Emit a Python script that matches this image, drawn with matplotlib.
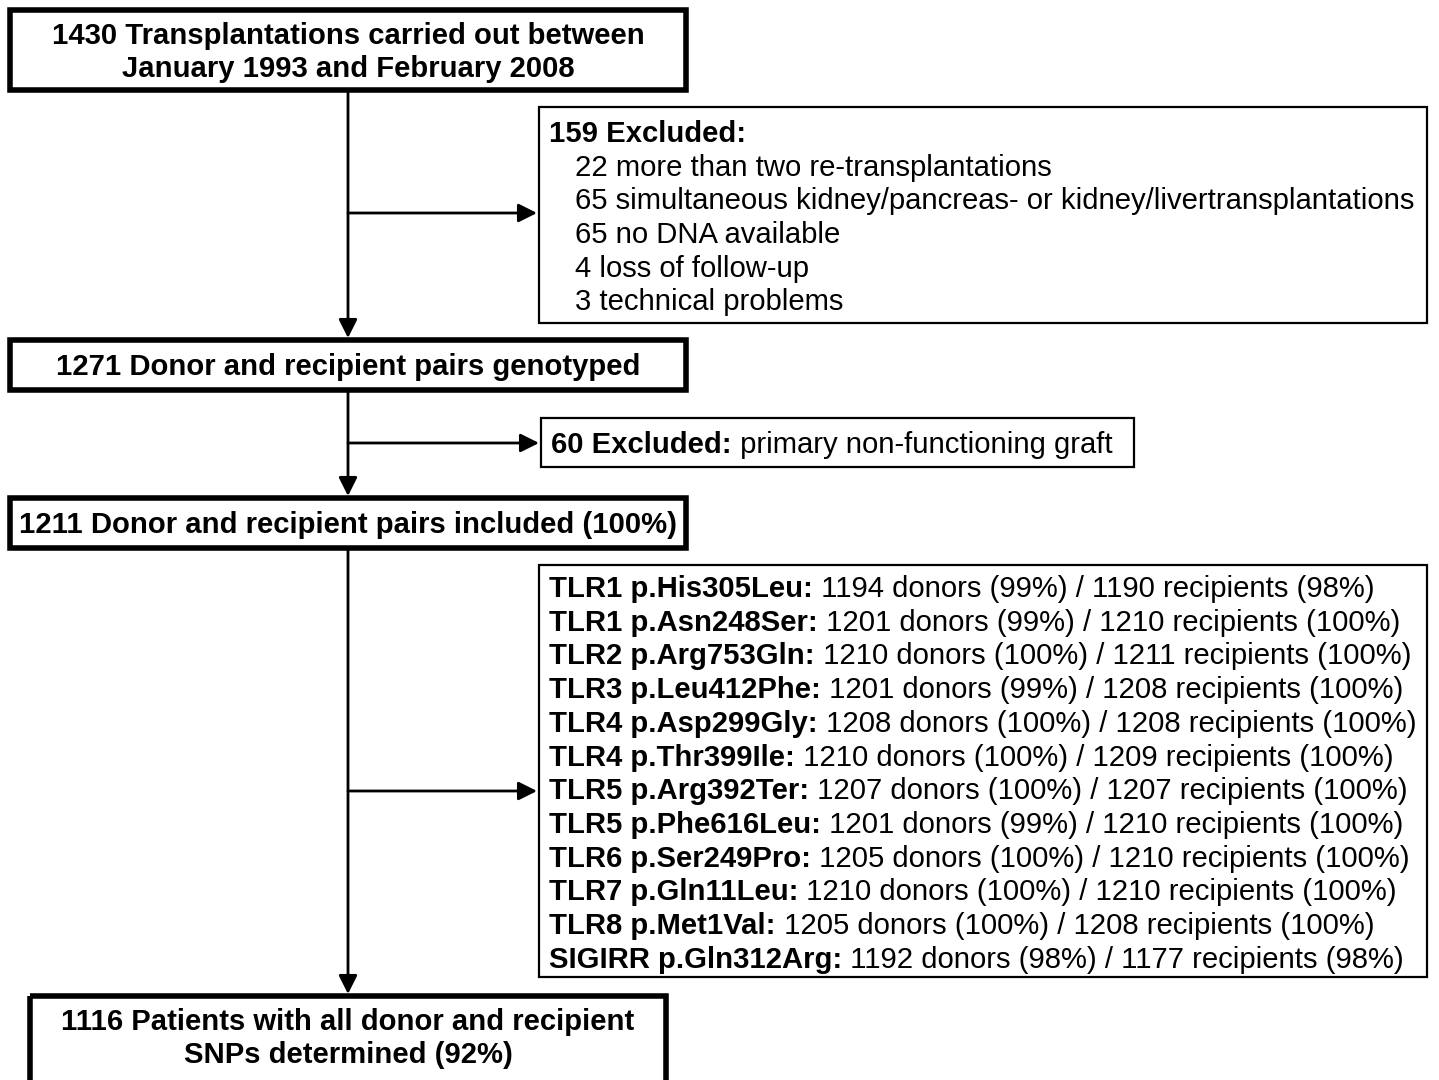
import matplotlib.pyplot as plt
from matplotlib.patches import Rectangle

plt.rcParams['font.family'] = ['Liberation Sans', 'DejaVu Sans']

# flow counts
n_total = 1430
n_excluded1 = 159
n_genotyped = 1271
n_excluded2 = 60
n_included = 1211
n_complete = 1116
pct_complete = 92

excl_counts = [22, 65, 65, 4, 3]
excl_reasons = ["more than two re-transplantations",
                "simultaneous kidney/pancreas- or kidney/livertransplantations",
                "no DNA available",
                "loss of follow-up",
                "technical problems"]

snps = ["TLR1 p.His305Leu", "TLR1 p.Asn248Ser", "TLR2 p.Arg753Gln", "TLR3 p.Leu412Phe",
        "TLR4 p.Asp299Gly", "TLR4 p.Thr399Ile", "TLR5 p.Arg392Ter", "TLR5 p.Phe616Leu",
        "TLR6 p.Ser249Pro", "TLR7 p.Gln11Leu", "TLR8 p.Met1Val", "SIGIRR p.Gln312Arg"]
donors = [1194, 1201, 1210, 1201, 1208, 1210, 1207, 1201, 1205, 1210, 1205, 1192]
donor_pct = [99, 99, 100, 99, 100, 100, 100, 99, 100, 100, 100, 98]
recips = [1190, 1210, 1211, 1208, 1208, 1209, 1207, 1210, 1210, 1210, 1208, 1177]
recip_pct = [98, 100, 100, 100, 100, 100, 100, 100, 100, 100, 100, 98]

FS = 21.1

fig = plt.figure(figsize=(14.39, 10.80), dpi=100)
ax = fig.add_axes([0, 0, 1, 1])
ax.set_xlim(0, 1439)
ax.set_ylim(1080, 0)
ax.axis('off')


def box(x0, y0, x1, y1, lw):
    ax.add_patch(Rectangle((x0, y0), x1 - x0, y1 - y0, fill=False, lw=lw, ec='black'))


def mixed(x, y, bold, rest):
    t = ax.text(x, y, bold, fontsize=FS, fontweight='bold', va='center', ha='left')
    ax.annotate(rest, xy=(1, 0), xycoords=t, va='bottom', ha='left', fontsize=FS)


def arrow(x0, y0, x1, y1):
    ax.annotate('', xy=(x1, y1), xytext=(x0, y0),
                arrowprops=dict(arrowstyle='-|>', color='black', lw=2,
                                mutation_scale=28, shrinkA=0, shrinkB=0))


cx = 348
dy = 2  # visual centring offset for text
# main boxes
box(10, 10, 686, 90, 4)
ax.text(cx, 50.5 + dy, f"{n_total} Transplantations carried out between\nJanuary 1993 and February 2008",
        fontsize=FS, fontweight='bold', ha='center', va='center', linespacing=1.21)

box(10, 340, 686, 390, 4)
ax.text(cx, 365 + dy, f"{n_genotyped} Donor and recipient pairs genotyped",
        fontsize=FS, fontweight='bold', ha='center', va='center')

box(10, 498, 686, 548, 4)
ax.text(cx, 523 + dy, f"{n_included} Donor and recipient pairs included (100%)",
        fontsize=FS, fontweight='bold', ha='center', va='center')

box(30, 996, 666, 1095, 4)
ax.text(cx, 1036.5 + dy, f"{n_complete} Patients with all donor and recipient\nSNPs determined ({pct_complete}%)",
        fontsize=FS, fontweight='bold', ha='center', va='center', linespacing=1.21)

# exclusion box 1
box(539, 107, 1427, 323, 1.6)
ax.text(549, 132 + dy, f"{n_excluded1} Excluded:", fontsize=FS, fontweight='bold', va='center')
for i, (c, r) in enumerate(zip(excl_counts, excl_reasons)):
    ax.text(575, 165.5 + dy + i * 33.7, f"{c} {r}", fontsize=FS, va='center')

# exclusion box 2
box(541, 418, 1134, 467, 1.6)
mixed(551, 443 + dy, f"{n_excluded2} Excluded:", " primary non-functioning graft")

# SNP box
box(539, 565, 1427, 977, 1.6)
for i in range(len(snps)):
    mixed(549, 587 + dy + i * 33.7, f"{snps[i]}:",
          f" {donors[i]} donors ({donor_pct[i]}%) / {recips[i]} recipients ({recip_pct[i]}%)")

# connectors
arrow(cx, 90, cx, 338)
arrow(cx, 213, 537, 213)
arrow(cx, 390, cx, 496)
arrow(cx, 443, 539, 443)
arrow(cx, 548, cx, 994)
arrow(cx, 791, 537, 791)

fig.savefig('out.png', dpi=100)
